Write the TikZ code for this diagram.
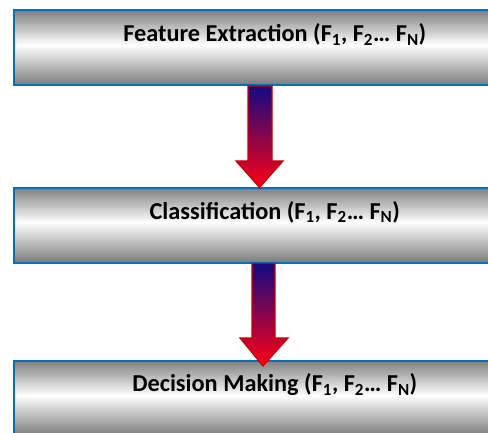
\documentclass[tikz,border=0pt]{standalone}
\usepackage{fontspec}
\setmainfont{Carlito}
\usetikzlibrary{calc}
\definecolor{boxblue}{RGB}{0,112,192}
\definecolor{arrnavy}{RGB}{20,10,130}
\definecolor{arrpurple}{RGB}{130,0,130}
\definecolor{arrred}{RGB}{255,0,20}
\definecolor{arredge}{RGB}{200,0,0}
\pgfdeclareverticalshading{cylgray}{100bp}{color(0bp)=(black!52); color(25bp)=(black!52); color(52bp)=(white); color(75bp)=(black!50); color(100bp)=(black!50)}
\tikzset{
  stagebox/.style={draw=boxblue, line width=1.6pt, shading=cylgray, minimum width=522pt, minimum height=75pt, inner sep=0pt, anchor=north west},
  stagetext/.style={font=\fontsize{24.3}{29}\selectfont\bfseries, inner sep=0pt, anchor=center},
  blockarrow/.style={draw=arredge, line width=1.2pt, top color=arrnavy, middle color=arrpurple, bottom color=arrred, line join=miter}
}
\begin{document}
\begin{tikzpicture}[x=1pt,y=-1pt]
\useasboundingbox (0,0) rectangle (488,433);
\clip (0,0) rectangle (488,433);
\node[stagebox] (fe) at (13,9.5) {};
\node[stagebox] (cl) at (13,187) {};
\node[stagebox] (dm) at (13,360) {};
\node[stagetext] (fet) at ($(fe.north)+(0,25)$) {Feature Extraction (F\textsubscript{1}, F\textsubscript{2}… F\textsubscript{N})};
\node[stagetext] (clt) at ($(cl.north)+(0,25)$) {Classification (F\textsubscript{1}, F\textsubscript{2}… F\textsubscript{N})};
\node[stagetext] (dmt) at ($(dm.north)+(0,25)$) {Decision Making (F\textsubscript{1}, F\textsubscript{2}… F\textsubscript{N})};
\shade[blockarrow] (fe.south -| 248,0) -- (fe.south -| 272,0) -- (272,161) -- (283,161) -- (cl.north -| 260,0) -- ++(0,1) -- (236,161) -- (248,161) -- cycle;
\shade[blockarrow] (cl.south -| 252,0) -- (cl.south -| 275,0) -- (275,338) -- (288,338) -- (263,366) -- (240,338) -- (252,338) -- cycle;
\end{tikzpicture}
\end{document}
